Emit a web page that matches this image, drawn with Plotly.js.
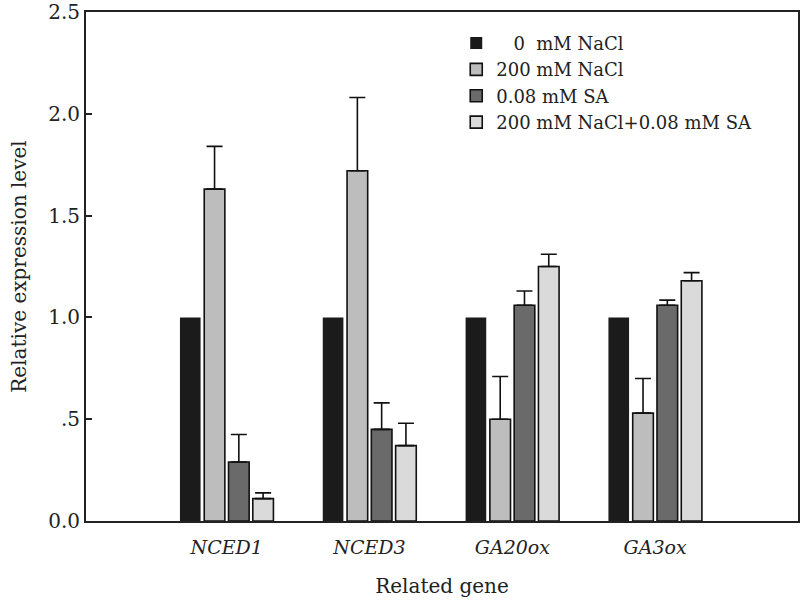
<!DOCTYPE html>
<html>
<head>
<meta charset="utf-8">
<script src="https://cdn.plot.ly/plotly-3.0.1.min.js"></script>
<style>html,body{margin:0;padding:0;background:#fff;}#chart{width:800px;height:607px;}</style>
</head>
<body>
<div id="chart"></div>
<script>
const genes = ['NCED1', 'NCED3', 'GA20ox', 'GA3ox'];
const seriesNames = ['\u00a0\u00a0\u00a00\u00a0 mM NaCl', '200 mM NaCl', '0.08 mM SA', '200 mM NaCl+0.08 mM SA'];
const ctrl = [1.0, 1.0, 1.0, 1.0];
const ctrlErr = [0, 0, 0, 0];
const nacl = [1.63, 1.72, 0.50, 0.53];
const naclErr = [0.21, 0.36, 0.21, 0.17];
const sa = [0.29, 0.45, 1.06, 1.06];
const saErr = [0.135, 0.13, 0.07, 0.025];
const naclSa = [0.11, 0.37, 1.25, 1.18];
const naclSaErr = [0.028, 0.11, 0.06, 0.04];
const yTickVals = [0, 0.5, 1.0, 1.5, 2.0, 2.5];
const yTickText = ['0.0', '.5', '1.0', '1.5', '2.0', '2.5'];

const colors = ['#1b1b1b', '#bdbdbd', '#6a6a6a', '#dadada'];
const values = [ctrl, nacl, sa, naclSa];
const errs = [ctrlErr, naclErr, saErr, naclSaErr];

const traces = values.map((v, i) => ({
  type: 'bar',
  name: seriesNames[i],
  x: genes,
  y: v,
  marker: {color: colors[i], line: {color: '#111', width: i === 0 ? 0 : 1.6}},
  error_y: i === 0 ? {visible: false} : {
    type: 'data', array: errs[i], symmetric: false, arrayminus: errs[i].map(() => 0),
    color: '#111', thickness: 1.6, width: 8, visible: true
  }
}));

const fontFam = 'DejaVu Serif';
const layout = {
  width: 800, height: 607,
  margin: {l: 86, r: 2, t: 12, b: 86},
  paper_bgcolor: '#fff', plot_bgcolor: '#fff',
  font: {family: fontFam, size: 20, color: '#222'},
  barmode: 'group',
  bargap: 0.32,
  bargroupgap: 0.15,
  showlegend: true,
  legend: {
    x: 0.52, y: 0.975, xanchor: 'left', yanchor: 'top',
    bgcolor: 'rgba(0,0,0,0)', borderwidth: 0,
    font: {family: fontFam, size: 18, color: '#222'},
    tracegroupgap: 0
  },
  xaxis: {
    type: 'category',
    range: [-0.985, 4.0],
    showline: true, mirror: true, linecolor: '#222', linewidth: 2,
    ticks: '', showgrid: false, zeroline: false,
    ticklabelstandoff: 8,
    tickfont: {family: fontFam, size: 19, style: 'italic', color: '#222'},
    title: {text: 'Related gene', font: {family: fontFam, size: 20, color: '#222'}, standoff: 22}
  },
  yaxis: {
    range: [0, 2.5001],
    tickvals: yTickVals, ticktext: yTickText,
    ticks: 'inside', ticklen: 6, tickwidth: 2, tickcolor: '#222',
    ticklabeloverflow: 'allow',
    showline: true, mirror: true, linecolor: '#222', linewidth: 2,
    showgrid: false, zeroline: false,
    tickfont: {family: fontFam, size: 20, color: '#222'},
    title: {text: 'Relative expression level', font: {family: fontFam, size: 20, color: '#222'}, standoff: 16}
  }
};

Plotly.newPlot('chart', traces, layout, {displayModeBar: false, staticPlot: true});
</script>
</body>
</html>
